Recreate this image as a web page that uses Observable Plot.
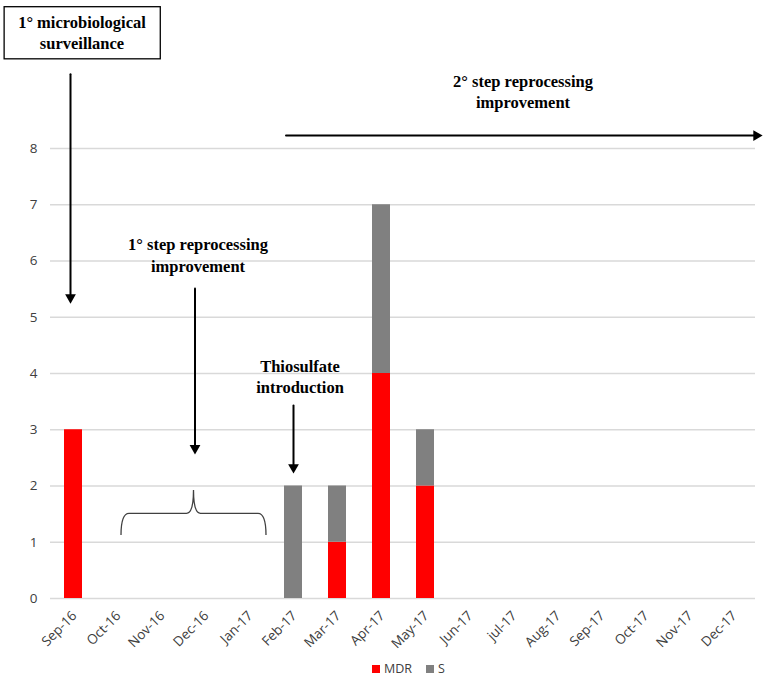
<!DOCTYPE html>
<html><head><meta charset="utf-8">
<script src="https://cdn.jsdelivr.net/npm/d3@7"></script>
<script src="https://cdn.jsdelivr.net/npm/@observablehq/plot@0.6"></script>
<style>
body{margin:0;background:#fff;overflow:hidden;}
#chart{position:relative;width:765px;height:676px;background:#fff;}
.legend{position:absolute;left:372px;top:660px;height:17px;display:flex;align-items:center;font:12.5px "Open Sans",sans-serif;color:#404040;}
.sw{display:inline-block;width:8px;height:8px;margin-right:4px;}
</style></head><body><div id="chart"></div>
<script>
// ---- data ----
const months = ["Sep-16","Oct-16","Nov-16","Dec-16","Jan-17","Feb-17","Mar-17","Apr-17","May-17","Jun-17","jul-17","Aug-17","Sep-17","Oct-17","Nov-17","Dec-17"];
const mdr = [3,0,0,0,0,0,1,4,2,0,0,0,0,0,0,0];
const sens = [0,0,0,0,0,2,1,3,1,0,0,0,0,0,0,0];
const seriesNames = ["MDR","S"];
const seriesColors = ["#ff0000","#808080"];
const yTicks = [0,1,2,3,4,5,6,7,8];

// annotations (anchored in data space)
const noteText = ["1° microbiological\nsurveillance","1° step reprocessing\nimprovement","Thiosulfate\nintroduction","2° step reprocessing\nimprovement"];
const noteMonth = ["Sep-16","Dec-16","Feb-17","jul-17"];
const noteLevel = [10.08, 6.12, 3.96, 9.03];
const arrowMonth = ["Sep-16","Dec-16","Feb-17"];
const arrowFrom = [9.32, 5.51, 3.43];
const arrowTo = [5.24, 2.56, 2.22];
const hArrowFrom = "Feb-17", hArrowTo = "Dec-17", hArrowLevel = 8.23;
const braceFrom = "Oct-16", braceTo = "Jan-17";
const braceLevels = [1.12, 1.506, 1.92]; // ends, bar, tip

const rows = months.flatMap((m, i) => [
  {month: m, type: seriesNames[0], value: mdr[i]},
  {month: m, type: seriesNames[1], value: sens[i]}
]).filter(d => d.value > 0);

const noteStyle = {fontFamily: '"Liberation Serif", "Times New Roman", serif', fontWeight: "bold", fontSize: 16.5, lineHeight: 1.28, fill: "black", lineAnchor: "middle"};
const note = (i, dx) => Plot.text([i], {x: j => noteMonth[j], y: j => noteLevel[j], text: j => noteText[j], dx, ...noteStyle});
const vArrow = (i, dx) => [
  Plot.arrow([i], {x: j => arrowMonth[j], y1: j => arrowFrom[j], y2: j => arrowTo[j], dx, stroke: "black", strokeWidth: 2, headLength: 0, insetEnd: 5}),
  Plot.dot([i], {x: j => arrowMonth[j], y: j => arrowTo[j], dx, dy: -6.3, symbol: "triangle", r: 4, fill: "black", stroke: "none", rotate: 180})
];

function braceMark(index, scales) {
  const {x, y} = scales;
  const bw = typeof x.bandwidth === "function" ? x.bandwidth() : 0;
  const x1 = x(braceFrom) + bw / 2 + 4, x2 = x(braceTo) + bw / 2 + 17;
  const cx = (x1 + x2) / 2;
  const yE = y(braceLevels[0]), yM = y(braceLevels[1]), yT = y(braceLevels[2]);
  const p = d3.path();
  p.moveTo(x1, yE);
  p.quadraticCurveTo(x1, yM, x1 + 8, yM);
  p.lineTo(cx - 7, yM);
  p.quadraticCurveTo(cx, yM, cx, yT);
  p.quadraticCurveTo(cx, yM, cx + 7, yM);
  p.lineTo(x2 - 8, yM);
  p.quadraticCurveTo(x2, yM, x2, yE);
  const g = d3.create("svg:g");
  g.append("path").attr("d", p.toString()).attr("fill", "none").attr("stroke", "#404040").attr("stroke-width", 1.3);
  return g.node();
}

const plot = Plot.plot({
  width: 765, height: 650,
  marginLeft: 50, marginRight: 10, marginTop: 148, marginBottom: 52,
  style: {fontFamily: '"Open Sans", sans-serif', fontSize: "13px", color: "#404040", background: "#fff", overflow: "visible"},
  x: {domain: months, paddingInner: 0.6, paddingOuter: 0.3, label: null},
  y: {domain: [0, 8], label: null},
  color: {domain: seriesNames, range: seriesColors},
  marks: [
    Plot.ruleY(yTicks, {stroke: "#d9d9d9", strokeWidth: 1.3}),
    Plot.axisY({ticks: yTicks, tickSize: 0, tickPadding: 13, fontSize: 13.5, fill: "#404040", label: null}),
    Plot.axisX({tickRotate: -45, tickSize: 0, tickPadding: 15, dx: 1, fontSize: 13.5, fill: "#404040", label: null}),
    Plot.barY(rows, {x: "month", y: "value", fill: "type"}),
    note(0, 8.5), note(1, -7.5), note(2, 6.5), note(3, 9.5),
    ...vArrow(0, -3), ...vArrow(1, -10.5), ...vArrow(2, 0),
    Plot.arrow([0], {x1: () => hArrowFrom, x2: () => hArrowTo, y: () => hArrowLevel, stroke: "black", strokeWidth: 2, headLength: 0, insetStart: -7.5, insetEnd: -24}),
    Plot.dot([0], {x: () => hArrowTo, y: () => hArrowLevel, dx: 22.9, symbol: "triangle", r: 4, fill: "black", stroke: "none", rotate: 90}),
    braceMark
  ]
});

const chart = document.getElementById("chart");
chart.append(plot);

// frame around the first annotation
const t = [...plot.querySelectorAll("text")].find(e => e.textContent.includes("microbiological"));
if (t) {
  const bb = t.getBBox();
  const r = document.createElementNS("http://www.w3.org/2000/svg", "rect");
  r.setAttribute("x", bb.x - 14); r.setAttribute("y", bb.y - 6);
  r.setAttribute("width", bb.width + 28); r.setAttribute("height", bb.height + 12);
  r.setAttribute("fill", "white"); r.setAttribute("stroke", "black"); r.setAttribute("stroke-width", 1.3);
  if (t.getAttribute("transform")) r.setAttribute("transform", t.getAttribute("transform"));
  t.parentNode.insertBefore(r, t);
}

// legend
const leg = document.createElement("div");
leg.className = "legend";
seriesNames.forEach((n, i) => {
  const sw = document.createElement("span");
  sw.className = "sw"; sw.style.background = seriesColors[i];
  if (i > 0) sw.style.marginLeft = "14px";
  const lab = document.createElement("span"); lab.textContent = n;
  leg.append(sw, lab);
});
chart.append(leg);
</script></body></html>
